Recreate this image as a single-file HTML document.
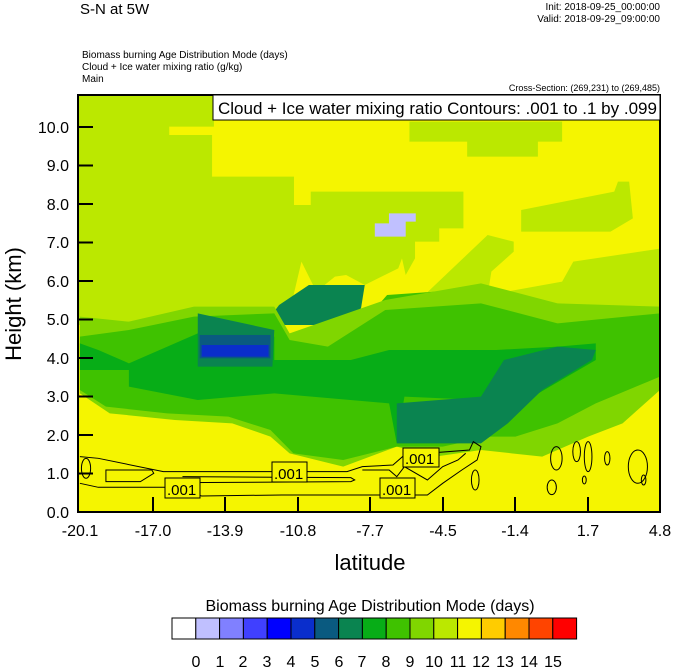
<!DOCTYPE html>
<html><head><meta charset="utf-8"><style>
body{margin:0;background:#fff;width:674px;height:668px;overflow:hidden}
svg{display:block;font-family:"Liberation Sans",sans-serif}
</style></head><body>
<svg width="674" height="668" viewBox="0 0 674 668">
<defs><clipPath id="pc"><rect x="78" y="95" width="582" height="417"/></clipPath></defs>
<g clip-path="url(#pc)">
<rect x="78" y="95" width="582" height="417" fill="#f5f500"/>
<g transform="translate(78,95) scale(0.3724,0.3333)">
<polygon fill="#bbe800" points="0,0 365,0 365,95 245,95 245,120 360,120 360,245 580,245 580,330 625,330 625,290 1035,290 1035,400 970,400 970,440 905,440 905,490 880,540 870,490 860,520 770,570 720,540 690,545 640,590 600,500 560,690 0,690"/>
<polygon fill="#bbe800" points="890,80 1300,80 1300,140 1235,140 1235,185 1045,185 1045,140 890,140"/>
<polygon fill="#bbe800" points="1190,345 1440,290 1450,260 1480,260 1490,370 1430,410 1190,410"/>
<polygon fill="#bbe800" points="1100,420 1170,440 1170,470 1110,530 1100,600 1300,560 1330,500 1568,460 1568,690 900,690 940,590"/>
<polygon fill="#c0c0ff" points="835,355 907,355 907,380 880,380 880,425 797,425 797,385 835,385"/>
<polygon fill="#0a8450" points="620,570 770,570 760,640 700,690 500,690 540,630 580,600"/>
<polygon fill="#3fc200" points="830,600 960,590 1000,640 1000,690 760,690"/>
</g>
<g transform="translate(60,250) scale(0.3827,0.3333)">
<polygon fill="#80d600" points="52,200 180,215 350,170 560,170 600,250 850,150 1100,100 1300,160 1568,170 1568,420 1470,520 1380,560 1260,620 1180,610 1100,600 980,620 880,590 740,650 600,610 550,560 450,520 300,510 130,490 52,430"/>
<polygon fill="#3fc200" points="52,260 180,240 350,200 560,190 600,270 700,290 850,180 1100,160 1300,220 1568,190 1568,380 1400,460 1300,520 1190,560 1120,560 1000,590 880,590 740,630 610,610 550,540 440,500 280,490 120,470 52,420"/>
<polygon fill="#07ad17" points="52,280 100,300 180,340 360,250 560,260 560,330 760,330 860,300 1140,300 1300,290 1400,280 1400,330 1250,430 1150,430 1100,450 900,440 880,580 860,460 560,430 360,450 180,410 180,360 100,360 52,360"/>
<polygon fill="#0a8450" points="360,190 560,240 555,350 360,350"/>
<polygon fill="#0a8450" points="880,460 1100,440 1160,330 1300,290 1400,300 1390,330 1260,420 1170,520 1100,580 880,580"/>
<rect fill="#0a5a80" x="365" y="255" width="185" height="70"/>
<rect fill="#0a2ecc" x="370" y="285" width="175" height="35"/>
<g fill="none" stroke="#000" stroke-width="1">
<path vector-effect="non-scaling-stroke" d="M52,620 L100,625 L270,665 L750,665 L790,650 L870,645 L900,615 L1070,600 L1080,575 L1100,590 L1090,630 L1050,660 L1000,700 L960,735 L870,735 L580,735 L370,738 L300,712 L100,712 L52,700"/>
<path vector-effect="non-scaling-stroke" d="M120,660 L240,660 L245,670 L210,695 L120,695 Z"/>
<path vector-effect="non-scaling-stroke" d="M320,680 L760,683 L770,690 L760,695 L320,698 M790,660 L860,660 L880,680 L900,650 L960,690 L1000,650 L1040,630 L1060,610"/>
<ellipse vector-effect="non-scaling-stroke" cx="1297" cy="625" rx="15" ry="35"/>
<ellipse vector-effect="non-scaling-stroke" cx="1350" cy="605" rx="10" ry="30"/>
<ellipse vector-effect="non-scaling-stroke" cx="1380" cy="620" rx="10" ry="45"/>
<ellipse vector-effect="non-scaling-stroke" cx="1430" cy="625" rx="7" ry="20"/>
<ellipse vector-effect="non-scaling-stroke" cx="1285" cy="712" rx="12" ry="22"/>
<ellipse vector-effect="non-scaling-stroke" cx="1370" cy="690" rx="5" ry="12"/>
<ellipse vector-effect="non-scaling-stroke" cx="1510" cy="650" rx="25" ry="50"/>
<ellipse vector-effect="non-scaling-stroke" cx="1525" cy="690" rx="6" ry="15"/>
<ellipse vector-effect="non-scaling-stroke" cx="1085" cy="690" rx="10" ry="30"/>
<ellipse vector-effect="non-scaling-stroke" cx="68" cy="655" rx="12" ry="30"/>
</g>
</g>
</g>
<g stroke="#000" stroke-width="1">
<rect x="165" y="478" width="35" height="20" fill="#f5f500"/>
<rect x="272" y="462" width="35" height="20" fill="#f5f500"/>
<rect x="380" y="478" width="35" height="20" fill="#f5f500"/>
<rect x="403" y="448" width="36" height="19" fill="#f5f500"/>
</g>
<g font-size="15" fill="#000">
<text x="167" y="495">.001</text><text x="274" y="479">.001</text>
<text x="382" y="495">.001</text><text x="405" y="464">.001</text>
</g>
<rect x="78" y="95" width="582" height="417" fill="none" stroke="#000" stroke-width="2"/>
<rect x="213" y="95" width="447" height="25" fill="#fff" stroke="#000" stroke-width="1"/>
<text x="218" y="114" font-size="17">Cloud + Ice water mixing ratio Contours: .001 to .1 by .099</text>
<g stroke="#000" stroke-width="2">
<line x1="78" y1="473.5" x2="93" y2="473.5"/><line x1="78" y1="435" x2="93" y2="435"/><line x1="78" y1="396.5" x2="93" y2="396.5"/><line x1="78" y1="358" x2="93" y2="358"/><line x1="78" y1="319.5" x2="93" y2="319.5"/><line x1="78" y1="281" x2="93" y2="281"/><line x1="78" y1="242.5" x2="93" y2="242.5"/><line x1="78" y1="204" x2="93" y2="204"/><line x1="78" y1="165.5" x2="93" y2="165.5"/><line x1="78" y1="127" x2="93" y2="127"/>
<line x1="153" y1="512" x2="153" y2="497"/><line x1="225" y1="512" x2="225" y2="497"/><line x1="298" y1="512" x2="298" y2="497"/><line x1="370" y1="512" x2="370" y2="497"/><line x1="443" y1="512" x2="443" y2="497"/><line x1="515" y1="512" x2="515" y2="497"/><line x1="588" y1="512" x2="588" y2="497"/>
</g>
<g font-size="16" text-anchor="end">
<text x="69" y="518">0.0</text><text x="69" y="479">1.0</text><text x="69" y="441">2.0</text><text x="69" y="402">3.0</text><text x="69" y="364">4.0</text><text x="69" y="325">5.0</text><text x="69" y="287">6.0</text><text x="69" y="248">7.0</text><text x="69" y="210">8.0</text><text x="69" y="171">9.0</text><text x="69" y="133">10.0</text>
</g>
<g font-size="16" text-anchor="middle">
<text x="80" y="536">-20.1</text><text x="153" y="536">-17.0</text><text x="225" y="536">-13.9</text><text x="298" y="536">-10.8</text><text x="370" y="536">-7.7</text><text x="443" y="536">-4.5</text><text x="515" y="536">-1.4</text><text x="588" y="536">1.7</text><text x="660" y="536">4.8</text>
</g>
<text x="370" y="570" font-size="22" text-anchor="middle">latitude</text>
<text transform="translate(21,304) rotate(-90)" font-size="22" text-anchor="middle">Height (km)</text>
<text x="80" y="14" font-size="15">S-N at 5W</text>
<g font-size="10" text-anchor="end"><text x="660" y="10">Init: 2018-09-25_00:00:00</text><text x="660" y="22">Valid: 2018-09-29_09:00:00</text><text x="660" y="91" font-size="9">Cross-Section: (269,231) to (269,485)</text></g>
<g font-size="10"><text x="82" y="58">Biomass burning Age Distribution Mode   (days)</text><text x="82" y="70">Cloud + Ice water mixing ratio   (g/kg)</text><text x="82" y="82">Main</text></g>
<text x="370" y="611" font-size="16" text-anchor="middle">Biomass burning Age Distribution Mode  (days)</text>
<g stroke="#000" stroke-width="1">
<rect x="172" y="618" width="23.8" height="21" fill="#fff"/><rect x="195.8" y="618" width="23.8" height="21" fill="#c0c0ff"/><rect x="219.6" y="618" width="23.8" height="21" fill="#8080ff"/><rect x="243.4" y="618" width="23.8" height="21" fill="#4040ff"/><rect x="267.2" y="618" width="23.8" height="21" fill="#0000ff"/><rect x="291" y="618" width="23.8" height="21" fill="#0a2ecc"/><rect x="314.8" y="618" width="23.8" height="21" fill="#0a5a80"/><rect x="338.6" y="618" width="23.8" height="21" fill="#0a8450"/><rect x="362.4" y="618" width="23.8" height="21" fill="#07ad17"/><rect x="386.2" y="618" width="23.8" height="21" fill="#3fc200"/><rect x="410" y="618" width="23.8" height="21" fill="#80d600"/><rect x="433.8" y="618" width="23.8" height="21" fill="#bbe800"/><rect x="457.6" y="618" width="23.8" height="21" fill="#f5f500"/><rect x="481.4" y="618" width="23.8" height="21" fill="#ffcc00"/><rect x="505.2" y="618" width="23.8" height="21" fill="#ff8800"/><rect x="529" y="618" width="23.8" height="21" fill="#ff4400"/><rect x="552.8" y="618" width="23.8" height="21" fill="#ff0000"/>
</g>
<g font-size="16" text-anchor="middle">
<text x="196" y="667">0</text><text x="220" y="667">1</text><text x="243" y="667">2</text><text x="267" y="667">3</text><text x="291" y="667">4</text><text x="315" y="667">5</text><text x="339" y="667">6</text><text x="362" y="667">7</text><text x="386" y="667">8</text><text x="410" y="667">9</text><text x="434" y="667">10</text><text x="458" y="667">11</text><text x="481" y="667">12</text><text x="505" y="667">13</text><text x="529" y="667">14</text><text x="553" y="667">15</text>
</g>
</svg>
</body></html>
